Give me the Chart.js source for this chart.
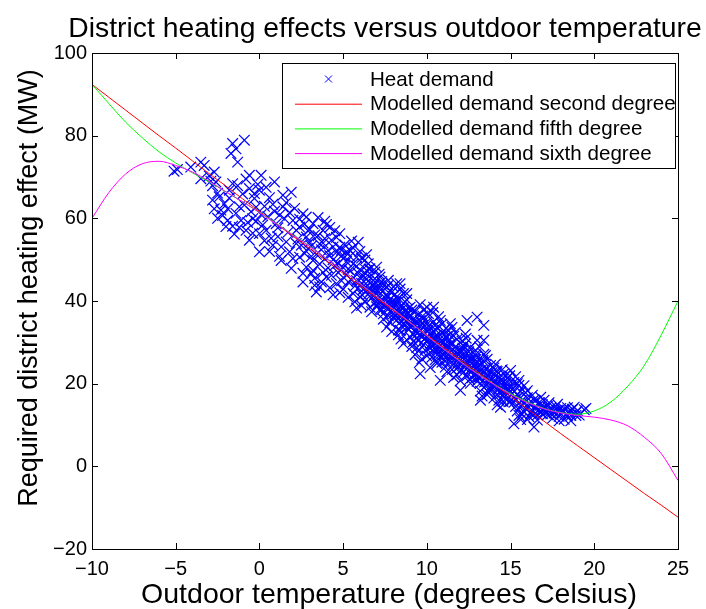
<!DOCTYPE html>
<html>
<head>
<meta charset="utf-8">
<title>District heating effects</title>
<script src="https://cdn.jsdelivr.net/npm/chart.js@4.4.1/dist/chart.umd.min.js"></script>
<style>
  html, body { margin: 0; padding: 0; background: #fff; }
</style>
</head>
<body>
<canvas id="heatChart" width="706" height="609"></canvas>
<script>
const chartTitle = "District heating effects versus outdoor temperature";
const xTitle = "Outdoor temperature (degrees Celsius)";
const yTitle = "Required district heating effect (MW)";
const seriesNames = ["Heat demand", "Modelled demand second degree", "Modelled demand fifth degree", "Modelled demand sixth degree"];

const xTicks = [-10, -5, 0, 5, 10, 15, 20, 25];
const yTicks = [-20, 0, 20, 40, 60, 80, 100];

// fitted curves, read every 1 degree
const tempGrid = [-10, -9, -8, -7, -6, -5, -4, -3, -2, -1, 0, 1, 2, 3, 4, 5, 6, 7, 8, 9, 10, 11, 12, 13, 14, 15, 16, 17, 18, 19, 20, 21, 22, 23, 24, 25];
const secondDegree = [92.4, 89.3, 86.2, 83.1, 80.0, 77.0, 73.9, 70.8, 67.8, 64.7, 61.7, 58.7, 55.7, 52.7, 49.7, 46.7, 43.7, 40.7, 37.7, 34.7, 31.8, 28.8, 25.8, 22.9, 19.9, 16.9, 13.9, 10.9, 7.9, 5.0, 2.1, -0.8, -3.7, -6.6, -9.4, -12.3];
const fifthDegree = [92.4, 87.8, 83.3, 79.5, 76.1, 73.4, 71.0, 68.8, 66.4, 64.0, 61.5, 58.8, 56.0, 53.3, 50.3, 47.3, 44.2, 41.1, 38.0, 34.8, 31.6, 28.4, 25.4, 22.5, 19.9, 17.6, 15.6, 14.0, 13.0, 12.6, 13.4, 15.6, 19.4, 24.5, 31.8, 40.0];
const sixthDegree = [60.0, 66.2, 70.7, 73.2, 73.8, 72.8, 71.2, 69.0, 66.4, 64.0, 61.4, 58.7, 55.9, 53.2, 50.3, 47.3, 44.2, 41.1, 38.0, 34.8, 31.6, 28.4, 25.3, 22.4, 19.8, 17.4, 15.4, 13.9, 12.9, 12.3, 11.9, 11.2, 9.8, 7.0, 3.1, -3.4];

// measured heat demand [temperature, MW]
const heatDemand = [
  [-5.1, 71.4], [-4.9, 71.8], [-4.1, 72.4], [-3.5, 73.6], [-3.3, 72.8], [-3.5, 69.6], [-2.7, 71.2], [-3.0, 70.3], [-2.8, 67.9],
  [-1.6, 78.1], [-0.9, 78.9], [-1.7, 75.7], [-1.3, 73.6], [-1.4, 76.8], [-1.6, 68.4], [-0.6, 70.4], [-0.6, 67.2], [-1.8, 66.8], [-2.4, 65.2],
  [-2.8, 64.4], [-2.7, 62.3], [-1.2, 62.8], [-2.2, 60.7], [-1.9, 59.5], [-1.1, 59.5], [-0.4, 59.9], [-0.2, 59.3], [-0.8, 57.1], [-0.6, 54.7],
  [-2.0, 58.0], [-1.5, 56.2], [-0.3, 64.8], [-1.0, 65.9], [-2.3, 62.0], [-0.1, 68.2], [-0.5, 61.6], [-1.4, 61.2],
  [-2.9, 69.0], [-2.5, 66.1], [-2.1, 63.5], [-1.8, 64.9], [-1.3, 67.9], [-0.8, 69.5], [-0.3, 66.0], [-0.9, 63.2], [-1.6, 58.1], [-2.5, 60.0],
  [-0.2, 62.7], [-0.7, 59.0], [-1.2, 57.8], [-1.9, 62.3], [-2.6, 68.8], [-0.4, 56.4],
  [0.1, 70.4], [0.9, 68.8], [0.0, 66.8], [1.4, 65.6], [0.0, 56.3], [0.0, 51.9], [0.8, 53.5], [0.4, 57.1], [1.0, 58.7], [1.4, 62.8],
  [2.0, 59.5], [2.4, 57.9], [2.8, 60.3], [1.3, 49.8], [1.8, 51.9], [2.4, 50.6], [2.8, 48.2], [2.6, 44.6], [2.2, 53.9], [2.8, 55.5],
  [0.5, 60.4], [0.3, 62.9], [1.2, 60.8], [1.7, 56.6], [0.7, 55.2], [2.1, 62.4], [2.6, 61.1], [1.6, 54.3], [2.9, 52.7], [0.2, 58.4],
  [1.1, 57.7], [1.9, 47.9], [2.3, 55.0], [0.6, 65.0], [2.7, 58.6],
  [0.3, 54.6], [0.8, 63.4], [1.1, 55.6], [1.5, 59.9], [1.8, 61.4], [2.2, 57.1], [2.5, 53.5], [0.6, 52.0], [1.3, 53.1], [2.0, 50.3],
  [2.7, 51.5], [0.9, 61.7], [1.6, 63.8], [2.4, 59.8], [0.4, 67.5], [1.9, 66.3], [2.9, 57.0], [1.2, 50.8], [2.6, 46.7], [0.1, 60.9],
  [3.1, 46.6], [3.3, 43.8], [3.4, 42.2], [3.2, 49.8], [3.2, 58.7], [3.8, 57.1], [4.8, 56.3], [4.4, 53.1], [3.2, 47.4], [4.0, 45.8],
  [4.6, 44.2], [3.6, 43.4], [3.5, 55.8], [4.2, 51.0], [3.9, 50.2], [4.5, 48.6], [4.9, 50.9], [3.0, 54.2], [3.7, 52.4], [4.3, 54.7],
  [4.7, 46.9], [3.4, 51.3], [4.1, 48.0], [4.8, 53.0], [3.9, 59.3], [4.4, 41.5], [3.6, 48.9], [4.9, 47.6], [3.1, 50.8], [4.6, 51.8],
  [3.8, 54.0], [4.2, 57.8],
  [3.0, 57.3], [3.3, 56.0], [3.6, 53.8], [3.9, 55.1], [4.1, 52.2], [4.4, 50.0], [4.7, 49.1], [3.3, 45.5], [3.8, 46.9], [4.3, 46.2],
  [4.6, 55.4], [4.9, 44.9], [3.5, 60.2], [4.0, 58.5], [4.5, 57.0], [3.7, 44.6], [4.2, 43.2], [4.8, 42.0], [3.1, 53.3], [4.9, 52.3],
  [5.4, 52.3], [5.4, 47.4], [5.8, 50.6], [6.4, 47.4], [7.0, 48.2], [6.4, 42.6], [5.6, 41.8], [6.6, 38.5], [5.2, 49.5], [5.5, 45.1],
  [5.9, 46.7], [6.1, 44.3], [6.3, 49.9], [6.8, 45.0], [5.7, 43.6], [6.0, 41.0], [6.5, 44.8], [6.9, 42.2], [5.3, 44.6], [5.8, 48.4],
  [6.2, 46.0], [6.7, 40.7], [5.1, 50.6], [6.6, 47.8], [5.6, 52.8], [6.9, 39.5], [5.0, 42.9], [6.1, 38.9], [5.9, 54.2], [6.4, 51.2],
  [5.3, 47.7], [6.8, 43.6],
  [5.0, 48.1], [5.2, 46.3], [5.4, 50.8], [5.6, 49.0], [5.8, 44.9], [6.0, 47.6], [6.2, 42.8], [6.4, 45.3], [6.6, 43.1], [6.8, 41.2],
  [7.0, 45.0], [5.1, 53.6], [5.5, 54.5], [6.0, 52.0], [6.5, 49.0], [5.3, 40.9], [5.7, 39.8], [6.3, 40.0], [6.9, 47.0], [5.9, 43.2],
  [6.7, 37.4], [5.2, 51.9], [6.1, 50.4], [6.5, 41.6], [5.8, 38.3],
  [6.05, 45.5], [6.25, 43.0], [6.45, 46.2], [6.65, 42.4], [6.85, 44.0], [6.15, 41.4], [6.55, 47.7], [6.95, 43.0],
  [7.2, 45.8], [7.6, 43.4], [8.2, 44.2], [8.6, 41.8], [9.0, 38.5], [8.0, 36.9], [8.4, 32.9], [7.6, 33.7], [9.0, 31.3], [8.6, 29.7],
  [8.4, 44.2], [8.8, 41.8], [7.1, 41.3], [7.4, 39.6], [7.8, 40.4], [8.1, 38.8], [8.3, 37.5], [8.7, 36.2], [8.9, 35.0], [7.3, 37.9],
  [7.7, 36.4], [8.0, 39.9], [8.5, 39.0], [7.9, 42.1], [8.2, 35.4], [8.8, 33.6], [7.5, 42.9], [7.0, 38.6], [8.4, 36.8], [8.9, 38.2],
  [7.8, 34.8], [7.2, 40.0], [8.6, 34.4], [8.1, 41.6], [7.4, 35.6], [8.7, 39.8], [7.6, 38.2], [8.3, 33.0], [7.1, 43.8], [8.0, 35.9],
  [7.0, 42.4], [7.3, 44.7], [7.5, 40.8], [7.7, 45.0], [7.9, 38.9], [8.1, 36.6], [8.3, 40.7], [8.5, 35.2], [8.7, 37.6], [8.9, 33.1],
  [7.2, 38.0], [7.6, 41.6], [8.0, 43.4], [8.4, 42.9], [8.8, 40.3], [7.4, 36.9], [7.9, 32.6], [8.3, 31.8], [8.6, 38.4], [7.1, 39.4],
  [7.7, 43.8], [8.2, 39.6], [8.8, 30.6], [7.5, 38.9], [8.5, 33.9],
  [7.05, 40.2], [7.25, 42.7], [7.45, 39.1], [7.65, 41.0], [7.85, 37.6], [8.05, 39.4], [8.25, 36.8], [8.45, 38.6], [8.65, 35.6], [8.85, 37.2],
  [7.35, 44.1], [7.75, 39.3], [8.15, 40.8], [8.55, 37.0], [8.95, 36.0], [7.15, 46.5], [8.45, 30.8],
  [9.6, 35.3], [10.0, 38.5], [10.4, 38.5], [10.8, 35.3], [9.6, 22.4], [10.8, 20.8], [9.1, 34.1], [9.3, 32.6], [9.5, 36.8], [9.7, 31.5],
  [9.9, 33.9], [10.1, 30.8], [10.3, 32.4], [10.5, 29.6], [10.7, 31.2], [10.9, 28.4], [9.2, 30.2], [9.4, 28.7], [9.8, 29.4], [10.2, 27.6],
  [10.6, 33.6], [11.0, 30.1], [9.3, 37.4], [9.7, 34.6], [10.0, 26.7], [10.4, 35.0], [10.8, 26.4], [9.5, 27.9], [10.1, 34.0], [10.6, 28.0],
  [9.0, 36.6], [10.3, 29.0], [9.9, 31.0], [10.7, 36.2], [9.4, 33.5], [10.9, 32.3], [9.1, 29.0], [10.5, 25.8], [9.8, 37.8], [10.2, 31.9],
  [9.0, 33.9], [9.2, 35.6], [9.4, 31.1], [9.6, 33.0], [9.8, 35.8], [10.0, 30.1], [10.2, 33.5], [10.4, 30.8], [10.6, 31.8], [10.8, 29.4],
  [11.0, 32.8], [9.1, 37.8], [9.5, 30.4], [9.9, 28.1], [10.3, 26.4], [10.7, 27.3], [9.3, 27.0], [9.7, 26.0], [10.1, 36.9], [10.5, 34.1],
  [10.9, 25.2], [9.6, 39.1], [10.2, 23.9], [10.4, 27.9], [10.8, 30.9], [9.2, 31.9], [10.0, 34.9], [10.6, 24.9], [9.8, 32.3], [10.9, 34.4],
  [9.05, 33.6], [9.25, 35.2], [9.45, 32.2], [9.65, 34.1], [9.85, 30.7], [10.05, 32.6], [10.25, 29.7], [10.45, 31.3], [10.65, 28.5], [10.85, 30.2],
  [9.35, 34.7], [9.75, 36.4], [10.15, 28.7], [10.55, 32.9], [10.95, 27.0], [9.55, 25.1], [10.35, 37.2],
  [11.4, 34.5], [12.4, 35.3], [13.0, 36.1], [13.4, 34.1], [13.0, 30.5], [13.4, 30.5], [12.9, 28.1], [12.0, 18.4], [11.1, 28.9], [11.3, 27.2],
  [11.5, 29.8], [11.7, 26.1], [11.9, 28.3], [12.1, 25.4], [12.3, 27.0], [12.5, 24.2], [12.7, 25.9], [12.9, 22.6], [11.2, 31.4], [11.6, 24.8],
  [11.8, 30.7], [12.2, 22.8], [12.6, 28.8], [11.4, 25.6], [12.0, 27.7], [12.8, 24.6], [11.0, 26.9], [12.4, 21.9], [11.7, 32.4], [12.3, 29.6],
  [11.5, 23.4], [12.1, 30.3], [12.7, 21.4], [11.9, 24.1], [12.5, 26.9], [11.3, 30.4], [13.0, 25.3], [12.2, 26.5], [11.8, 22.1], [12.6, 23.5],
  [11.1, 25.5], [11.3, 28.6], [11.5, 26.7], [11.7, 28.9], [11.9, 26.0], [12.1, 27.9], [12.3, 24.6], [12.5, 27.7], [12.7, 23.7], [12.9, 25.8],
  [11.2, 22.9], [11.6, 21.5], [12.0, 23.1], [12.4, 25.2], [12.8, 22.0], [11.4, 29.6], [11.8, 27.3], [12.2, 29.2], [12.6, 26.0], [13.0, 23.9],
  [11.0, 30.9], [11.6, 31.5], [12.3, 32.0], [12.9, 27.0], [11.1, 24.0], [12.0, 20.7], [12.6, 20.1], [11.5, 33.6],
  [11.05, 27.3], [11.25, 29.1], [11.45, 26.2], [11.65, 27.9], [11.85, 25.0], [12.05, 26.6], [12.25, 23.9], [12.45, 25.8], [12.65, 22.8], [12.85, 24.3],
  [11.35, 31.8], [11.75, 23.6], [12.15, 28.6], [12.55, 21.0], [12.95, 26.6], [11.25, 33.0], [12.35, 31.0],
  [13.2, 16.0], [14.4, 14.3], [14.6, 22.4], [15.0, 23.2], [13.1, 24.4], [13.3, 22.1], [13.5, 23.6], [13.7, 20.9], [13.9, 22.7], [14.1, 19.8],
  [14.3, 21.5], [14.5, 18.6], [14.7, 20.2], [14.9, 17.9], [13.2, 20.1], [13.6, 25.9], [13.8, 18.7], [14.0, 23.8], [14.2, 17.4], [14.4, 20.8],
  [14.8, 19.0], [13.4, 19.1], [13.9, 21.0], [14.6, 16.7], [13.5, 26.8], [14.1, 24.7], [14.7, 22.0], [13.1, 21.6], [14.3, 16.0], [13.7, 17.9],
  [14.9, 15.6], [14.0, 19.4],
  [13.1, 22.8], [13.3, 24.9], [13.5, 21.3], [13.7, 23.1], [13.9, 19.6], [14.1, 21.9], [14.3, 18.7], [14.5, 20.8], [14.7, 18.0], [14.9, 20.0],
  [13.2, 18.2], [13.6, 17.3], [14.0, 16.5], [14.4, 17.6], [14.8, 16.2], [13.4, 27.1], [13.8, 24.4], [14.2, 22.9], [14.6, 19.4], [13.0, 20.6],
  [14.2, 14.9], [13.6, 22.2], [14.8, 21.3], [13.3, 17.0], [14.5, 23.4],
  [13.05, 21.5], [13.25, 23.3], [13.45, 20.4], [13.65, 22.0], [13.85, 19.3], [14.05, 20.9], [14.25, 18.5], [14.45, 19.9], [14.65, 17.5], [14.85, 18.8],
  [13.35, 25.6], [13.75, 18.4], [14.15, 23.1], [14.55, 15.7], [14.95, 21.9], [13.15, 28.9],
  [15.4, 20.0], [15.5, 20.8], [15.5, 19.6], [17.0, 16.0], [16.4, 9.5], [15.2, 10.3], [16.4, 14.3], [15.1, 17.6], [15.3, 16.3], [15.6, 18.1],
  [15.8, 15.2], [16.0, 16.6], [16.2, 14.8], [16.5, 15.9], [16.7, 13.7], [16.9, 14.9], [15.4, 13.4], [15.7, 12.6], [16.1, 12.0], [16.6, 12.4],
  [15.9, 17.8], [16.3, 17.2], [16.8, 16.7], [15.0, 19.0], [15.6, 14.6], [16.0, 11.3], [16.4, 16.1], [16.9, 12.7], [15.2, 15.5], [15.8, 19.5],
  [15.1, 18.6], [15.3, 14.5], [15.5, 16.9], [15.7, 16.0], [15.9, 14.0], [16.1, 15.3], [16.3, 13.5], [16.5, 14.2], [16.7, 15.4], [16.9, 13.9],
  [15.2, 20.3], [15.4, 17.5], [15.6, 11.3], [15.8, 13.2], [16.0, 18.3], [16.2, 12.8], [16.6, 11.2], [16.8, 13.0], [15.0, 15.7], [15.5, 12.3],
  [16.4, 12.5], [15.3, 21.7],
  [18.0, 14.0], [18.6, 13.5], [19.5, 14.0], [18.6, 12.3], [17.4, 12.7], [18.1, 13.2], [18.6, 11.0], [19.4, 13.7], [17.2, 14.5], [17.6, 13.4],
  [17.8, 15.0], [18.3, 12.6], [18.4, 14.2], [18.9, 13.0], [19.1, 12.4], [17.5, 11.6], [17.9, 12.1], [18.2, 11.4], [17.1, 13.1], [18.8, 14.3],
  [17.3, 15.4], [17.0, 13.8], [17.2, 12.5], [17.4, 14.1], [17.6, 12.9], [17.8, 13.6], [18.0, 12.7], [18.2, 13.9], [18.4, 12.2], [18.7, 13.8],
  [19.0, 13.5], [17.3, 13.5], [17.7, 14.5], [18.5, 13.2], [17.9, 11.0], [18.9, 12.3]
];

const FONT = "'Liberation Sans', Arial, Helvetica, sans-serif";

function curve(values) {
  return tempGrid.map((t, i) => ({ x: t, y: values[i] }));
}

function minusSign(v) {
  return String(v).replace("-", "\u2212");
}

// MATLAB look: box, inward ticks on all sides, titles and legend inside the axes
const matlabFrame = {
  id: "matlabFrame",
  afterDraw(chart) {
    const ctx = chart.ctx;
    const a = chart.chartArea;
    const xs = chart.scales.x, ys = chart.scales.y;
    ctx.save();
    ctx.strokeStyle = "#000";
    ctx.lineWidth = 1;
    ctx.beginPath();
    xTicks.forEach(v => {
      const px = Math.round(xs.getPixelForValue(v)) + 0.5;
      ctx.moveTo(px, a.bottom); ctx.lineTo(px, a.bottom - 6);
      ctx.moveTo(px, a.top); ctx.lineTo(px, a.top + 6);
    });
    yTicks.forEach(v => {
      const py = Math.round(ys.getPixelForValue(v)) + 0.5;
      ctx.moveTo(a.left, py); ctx.lineTo(a.left + 6, py);
      ctx.moveTo(a.right, py); ctx.lineTo(a.right - 6, py);
    });
    ctx.stroke();
    ctx.strokeRect(Math.round(a.left) + 0.5, Math.round(a.top) + 0.5, Math.round(a.right - a.left), Math.round(a.bottom - a.top));

    // texts
    ctx.fillStyle = "#000";
    ctx.textAlign = "center";
    ctx.textBaseline = "alphabetic";
    ctx.font = "28.3px " + FONT;
    ctx.fillText(chartTitle, (a.left + a.right) / 2, 37);
    ctx.font = "28.5px " + FONT;
    ctx.fillText(xTitle, (a.left + a.right) / 2 + 4, 603);
    ctx.font = "27px " + FONT;
    ctx.save();
    ctx.translate(37, 288);
    ctx.rotate(-Math.PI / 2);
    ctx.fillText(yTitle, 0, 0);
    ctx.restore();

    // legend
    const box = { left: 282, top: 63, right: 675, bottom: 168 };
    ctx.fillStyle = "#fff";
    ctx.fillRect(box.left, box.top, box.right - box.left, box.bottom - box.top);
    ctx.strokeRect(box.left + 0.5, box.top + 0.5, box.right - box.left, box.bottom - box.top);
    ctx.font = "20.6px " + FONT;
    ctx.textAlign = "left";
    ctx.textBaseline = "middle";
    chart.data.datasets.forEach((ds, i) => {
      const cy = 79 + i * 24.7;
      ctx.strokeStyle = ds.borderColor;
      ctx.lineWidth = 1;
      ctx.beginPath();
      if (i === 0) {
        ctx.moveTo(325, cy - 3.5); ctx.lineTo(332, cy + 3.5);
        ctx.moveTo(332, cy - 3.5); ctx.lineTo(325, cy + 3.5);
      } else {
        ctx.moveTo(295, cy + 0.5); ctx.lineTo(362, cy + 0.5);
      }
      ctx.stroke();
      ctx.fillStyle = "#000";
      ctx.fillText(ds.label, 370, cy + 1);
    });
    ctx.restore();
  }
};

new Chart(document.getElementById("heatChart"), {
  type: "scatter",
  data: {
    datasets: [
      {
        label: seriesNames[0],
        data: heatDemand.map(p => ({ x: p[0], y: p[1] })),
        pointStyle: "crossRot",
        pointRadius: 7.5,
        pointBorderWidth: 1.2,
        borderColor: "#0000ff",
        backgroundColor: "#0000ff",
        order: 3
      },
      {
        label: seriesNames[1],
        data: curve(secondDegree),
        showLine: true,
        pointRadius: 0,
        borderWidth: 1,
        borderColor: "#ff0000",
        cubicInterpolationMode: "monotone",
        order: 2
      },
      {
        label: seriesNames[2],
        data: curve(fifthDegree),
        showLine: true,
        pointRadius: 0,
        borderWidth: 1,
        borderColor: "#00ff00",
        cubicInterpolationMode: "monotone",
        order: 1
      },
      {
        label: seriesNames[3],
        data: curve(sixthDegree),
        showLine: true,
        pointRadius: 0,
        borderWidth: 1,
        borderColor: "#ff00ff",
        cubicInterpolationMode: "monotone",
        order: 0
      }
    ]
  },
  options: {
    responsive: false,
    animation: false,
    layout: { padding: { top: 53, right: 28, left: 0, bottom: 0 } },
    plugins: {
      legend: { display: false },
      title: { display: false },
      tooltip: { enabled: false }
    },
    scales: {
      x: {
        type: "linear",
        min: -10,
        max: 25,
        afterBuildTicks: s => { s.ticks = xTicks.map(v => ({ value: v })); },
        afterFit: s => { s.height = 60; },
        grid: { display: false, drawTicks: false },
        border: { display: false },
        ticks: {
          padding: 8,
          color: "#000",
          font: { family: FONT, size: 20 },
          maxRotation: 0,
          callback: v => minusSign(v)
        }
      },
      y: {
        type: "linear",
        min: -20,
        max: 100,
        afterBuildTicks: s => { s.ticks = yTicks.map(v => ({ value: v })); },
        afterFit: s => { s.width = 92; },
        grid: { display: false, drawTicks: false },
        border: { display: false },
        ticks: {
          padding: 5,
          color: "#000",
          font: { family: FONT, size: 20 },
          callback: v => minusSign(v)
        }
      }
    }
  },
  plugins: [matlabFrame]
});
</script>
</body>
</html>
